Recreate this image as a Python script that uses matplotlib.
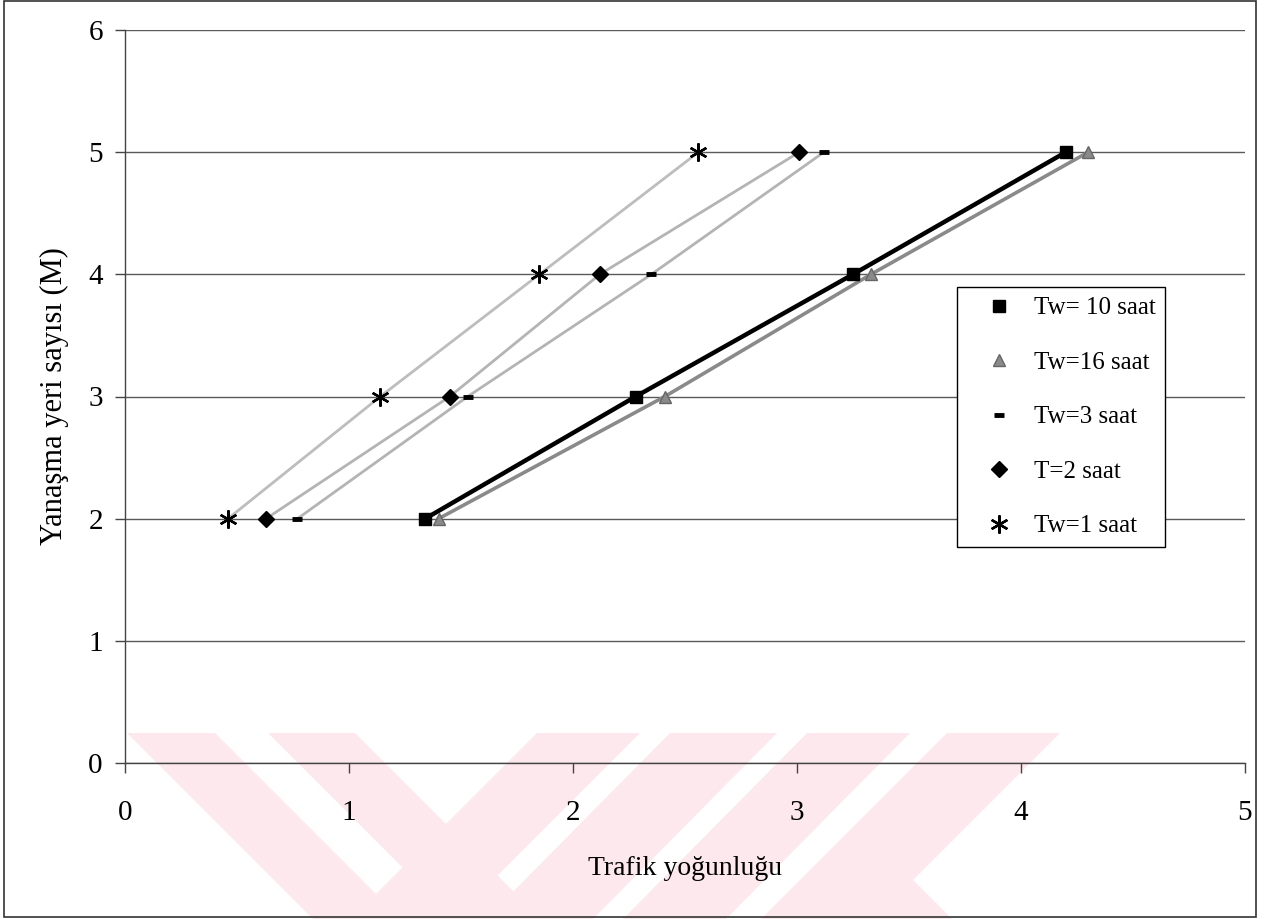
import matplotlib
matplotlib.use("Agg")
import matplotlib.pyplot as plt
from matplotlib.lines import Line2D
from matplotlib.patches import Polygon, Rectangle

W, H = 1268, 919

# number of berths (y) against traffic intensity (x), one list per waiting time
berths = [2, 3, 4, 5]
tw10 = [1.34, 2.28, 3.25, 4.20]
tw16 = [1.40, 2.41, 3.33, 4.30]
tw3 = [0.77, 1.53, 2.35, 3.12]
t2 = [0.63, 1.45, 2.12, 3.01]
tw1 = [0.46, 1.14, 1.85, 2.56]

series_labels = ["Tw= 10 saat", "Tw=16 saat", "Tw=3 saat", "T=2 saat", "Tw=1 saat"]
x_ticks = [0, 1, 2, 3, 4, 5]
y_ticks = [0, 1, 2, 3, 4, 5, 6]

plt.rcParams['font.family'] = ['Liberation Serif', 'DejaVu Serif']

fig = plt.figure(figsize=(W / 100, H / 100), dpi=100)


def px(x, y):
    # pixel position (y down) -> figure fraction
    return (x / W, 1 - y / H)


# pale watermark stripes behind the chart
pink = '#fde9ed'
stripes = [
    [(127, 733), (215, 733), (401, 919), (313, 919)],
    [(268, 733), (355, 733), (541, 919), (454, 919)],
    [(379, 897), (410, 875), (454, 919), (401, 919)],
    [(537, 733), (640, 733), (454, 919), (351, 919)],
    [(670, 733), (777, 733), (593, 919), (486, 919)],
    [(807, 733), (910, 733), (726, 919), (623, 919)],
    [(947, 733), (1060, 733), (913, 880), (952, 919), (761, 919)],
]
for pts in stripes:
    fig.patches.append(Polygon([px(*p) for p in pts], closed=True, transform=fig.transFigure,
                               facecolor=pink, edgecolor='none', zorder=-1))

ax = fig.add_axes([125 / W, (H - 763) / H, 1120 / W, 733 / H])
ax.patch.set_visible(False)

styles = {
    "Tw= 10 saat": dict(color='black', lw=3.2, marker='s', ms=9, mfc='black', mec='black', zorder=5),
    "Tw=16 saat": dict(color='#8a8a8a', lw=2.6, marker='^', ms=8, mfc='#8a8a8a', mec='#666666', zorder=4),
    "Tw=3 saat": dict(color='#b4b4b4', lw=2.0, marker='_', ms=7, mew=3.5, mec='black', zorder=3),
    "T=2 saat": dict(color='#b4b4b4', lw=2.0, marker='D', ms=8, mfc='black', mec='black', zorder=3),
    "Tw=1 saat": dict(color='#bdbdbd', lw=2.0, marker=(6, 2, 0), ms=13, mew=1.7, mec='black', zorder=3),
}
values = [tw10, tw16, tw3, t2, tw1]

for label, xs in zip(series_labels, values):
    ax.plot(xs, berths, **styles[label])

ax.set_xlim(0, 5)
ax.set_ylim(0, 6)
ax.set_xticks(x_ticks)
ax.set_yticks(y_ticks)
ax.yaxis.grid(True, color='#5a5a5a', lw=1)
ax.set_axisbelow(True)
for side in ['top', 'right']:
    ax.spines[side].set_visible(False)
for side in ['left', 'bottom']:
    ax.spines[side].set_color('#444444')
    ax.spines[side].set_linewidth(1)
ax.tick_params(axis='y', direction='out', length=7, width=1, pad=9, labelsize=21, color='#444444')
ax.tick_params(axis='x', direction='out', length=7, width=1, pad=20, labelsize=21, color='#444444')

ax.set_xlabel('Trafik yoğunluğu', fontsize=20, labelpad=21)
ax.set_ylabel('Yanaşma yeri sayısı (M)', fontsize=22, labelpad=14)

# legend shows markers only
handles = []
for label in series_labels:
    st = dict(styles[label])
    for k in ['color', 'lw', 'zorder']:
        st.pop(k)
    handles.append(Line2D([], [], linestyle='none', **st))
leg = ax.legend(handles, series_labels, loc='upper left', bbox_to_anchor=(0.743, 0.649),
                fontsize=18, frameon=True, fancybox=False, edgecolor='black', framealpha=1,
                borderpad=0.38, labelspacing=1.28, handlelength=2.6, handletextpad=0.1,
                borderaxespad=0)
leg.get_frame().set_linewidth(1)

# outer chart border
fig.patches.append(Rectangle(px(4, 917), 1252 / W, 916 / H, transform=fig.transFigure,
                             fill=False, edgecolor='#333333', lw=1.2, zorder=5))

fig.savefig('out.png', dpi=100)
